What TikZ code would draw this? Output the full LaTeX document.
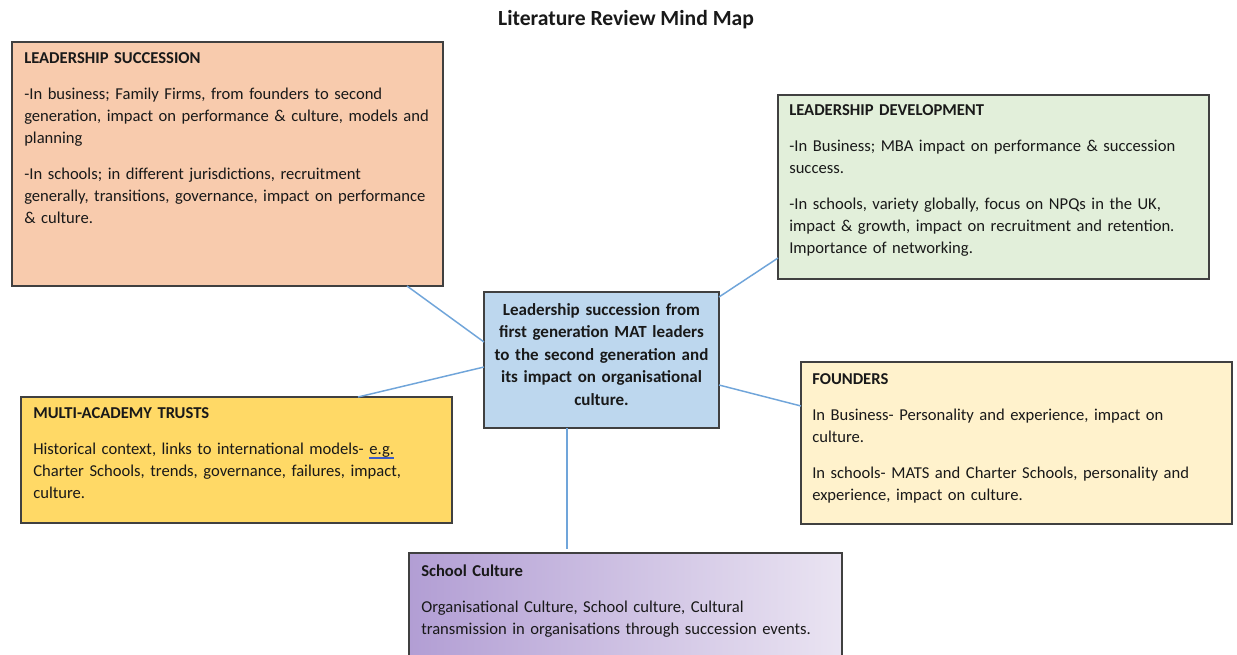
\documentclass[tikz,border=0pt]{standalone}
\usepackage{fontspec}
\setmainfont{Carlito}
\usetikzlibrary{calc}

\definecolor{lsfill}{RGB}{248,203,173}
\definecolor{ldfill}{RGB}{226,239,218}
\definecolor{hubfill}{RGB}{189,215,238}
\definecolor{matfill}{RGB}{255,217,102}
\definecolor{fdfill}{RGB}{255,242,204}
\definecolor{scleft}{RGB}{178,158,212}
\definecolor{scright}{RGB}{234,228,242}
\definecolor{boxline}{RGB}{64,64,64}
\definecolor{linkblue}{RGB}{112,165,218}
\definecolor{gramblue}{RGB}{60,90,200}
\definecolor{ink}{RGB}{25,25,25}

% double blue underline (grammar mark)
\newcommand\gmark[1]{\setbox0\hbox{#1}\rlap{\color{gramblue}\rule[-2pt]{\wd0}{0.45pt}\hskip-\wd0\rule[-3.3pt]{\wd0}{0.45pt}}#1}

\begin{document}
\begin{tikzpicture}[x=0.75pt,y=-0.75pt,
  every node/.style={font=\fontsize{12.45pt}{16.5pt}\selectfont, text=ink},
  topic/.style={draw=boxline, line width=1.1pt, anchor=north west, inner sep=0pt, outer sep=0pt},
  body/.style={anchor=base west, inner sep=0pt, align=left, text width={440*0.75pt}},
  link/.style={draw=linkblue, line width=1.1pt},
]
\clip (0,0) rectangle (1237,654);
\fill[white] (0,0) rectangle (1237,654);

% title
\node[anchor=base, font=\fontsize{16.2pt}{18pt}\selectfont\bfseries] (title) at (626,25) {Literature Review Mind Map};

% topic boxes
\node[topic, fill=lsfill, minimum width={431*0.75pt}, minimum height={244*0.75pt}] (ls) at (12,42) {};
\node[topic, fill=ldfill, minimum width={431*0.75pt}, minimum height={184*0.75pt}] (ld) at (778,95) {};
\node[topic, fill=hubfill, minimum width={235*0.75pt}, minimum height={136*0.75pt}] (hub) at (484,292) {};
\node[topic, fill=matfill, minimum width={431*0.75pt}, minimum height={126*0.75pt}] (mat) at (21,397) {};
\node[topic, fill=fdfill, minimum width={431*0.75pt}, minimum height={162*0.75pt}] (fd) at (801,362) {};
\node[topic, left color=scleft, right color=scright, minimum width={433*0.75pt}, minimum height={110*0.75pt}] (sc) at (409,553) {};

% box texts
\node[body] (lstext) at (24,63.5) {\textbf{LEADERSHIP SUCCESSION}\\[10.5pt]
-In business; Family Firms, from founders to second\\
generation, impact on performance \& culture, models and\\
planning\\[10.5pt]
-In schools; in different jurisdictions, recruitment\\
generally, transitions, governance, impact on performance\\
\& culture.};

\node[body] (ldtext) at (789,115.5) {\textbf{LEADERSHIP DEVELOPMENT}\\[10.5pt]
-In Business; MBA impact on performance \& succession\\
success.\\[10.5pt]
-In schools, variety globally, focus on NPQs in the UK,\\
impact \& growth, impact on recruitment and retention.\\
Importance of networking.};

\node[anchor=base, inner sep=0pt, align=center, text width={230*0.75pt}, font=\fontsize{12.75pt}{16.9pt}\selectfont\bfseries] (hubtext) at (601.5,315) {Leadership succession from\\
first generation MAT leaders\\
to the second generation and\\
its impact on organisational\\
culture.};

\node[body] (mattext) at (33,418.5) {\textbf{MULTI-ACADEMY TRUSTS}\\[10.5pt]
Historical context, links to international models- \gmark{e.g.}\\
Charter Schools, trends, governance, failures, impact,\\
culture.};

\node[body] (fdtext) at (812,384.5) {\textbf{FOUNDERS}\\[10.5pt]
In Business- Personality and experience, impact on\\
culture.\\[10.5pt]
In schools- MATS and Charter Schools, personality and\\
experience, impact on culture.};

\node[body] (sctext) at (421,576.5) {\textbf{School Culture}\\[10.5pt]
Organisational Culture, School culture, Cultural\\
transmission in organisations through succession events.};

% connectors from the central topic
\draw[link] ($(ls.south west)+(395,0)$) -- ($(hub.north west)+(0,50)$);
\draw[link] ($(hub.north east)+(0,5)$) -- ($(ld.south west)+(0,-21)$);
\draw[link] ($(hub.south east)+(0,-43)$) -- ($(fd.north west)+(0,44)$);
\draw[link] ($(hub.north west)+(0,75)$) -- ($(mat.north west)+(337,0)$);
\draw[link] ($(hub.south west)+(83,0)$) -- ($(sc.north west)+(158,-4)$);
\end{tikzpicture}
\end{document}
